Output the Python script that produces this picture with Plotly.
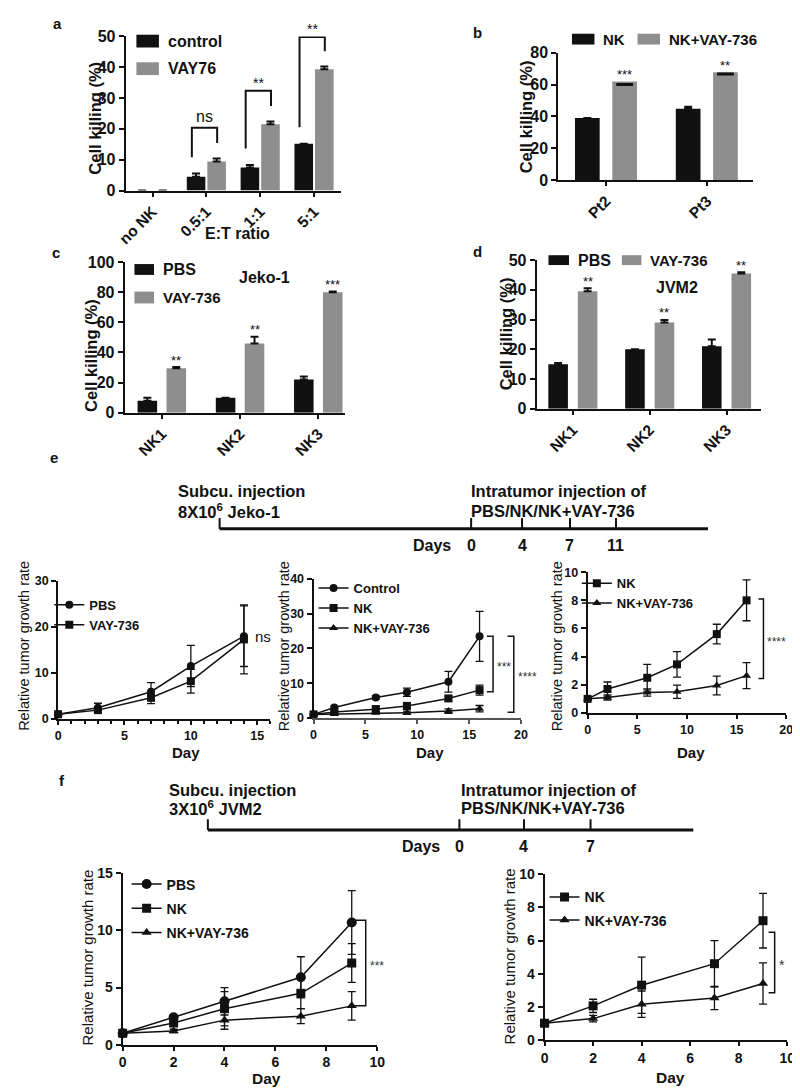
import plotly.graph_objects as go

W, H = 800, 1089
INK = '#111111'
GREY = '#8e8e8e'
SANS = 'Liberation Sans, Arial, sans-serif'

# ---- a: killing vs E:T ratio ----
a_cats = ['no NK', '0.5:1', '1:1', '5:1']
a_control = [0, 4.5, 7.5, 15.2]
a_control_err = [0, 1.0, 0.8, 0]
a_vay = [0, 9.4, 21.5, 39.3]
a_vay_err = [0, 1.0, 0.9, 0.9]
a_sig = ['', 'ns', '**', '**']

# ---- b: patient samples ----
b_cats = ['Pt2', 'Pt3']
b_nk = [39.0, 44.8]
b_nk_err = [0, 1.3]
b_vay = [62.0, 67.8]
b_vay_err = [2.0, 1.2]
b_sig = ['***', '**']

# ---- c: Jeko-1 ----
c_cats = ['NK1', 'NK2', 'NK3']
c_pbs = [8.0, 10.0, 22.0]
c_pbs_err = [2.0, 0, 2.0]
c_vay = [29.5, 46.0, 80.0]
c_vay_err = [0.8, 4.5, 0.4]
c_sig = ['**', '**', '***']

# ---- d: JVM2 ----
d_cats = ['NK1', 'NK2', 'NK3']
d_pbs = [15.0, 20.0, 21.0]
d_pbs_err = [0.4, 0, 2.3]
d_vay = [39.5, 29.0, 45.5]
d_vay_err = [1.0, 0.9, 0.4]
d_sig = ['**', '**', '**']

# ---- e: Jeko-1 xenograft ----
e_steps = ['0', '4', '7', '11']
e1_days = [0, 3, 7, 10, 14]
e1_pbs = [1.0, 2.4, 5.9, 11.5, 18.0]
e1_pbs_err = [0.2, 1.0, 2.0, 4.5, 6.6]
e1_vay = [1.0, 1.9, 4.6, 8.2, 17.3]
e1_vay_err = [0.2, 0.5, 1.3, 2.6, 7.5]

e_days = [0, 2, 6, 9, 13, 16]
e_control = [1.0, 3.0, 5.9, 7.4, 10.4, 23.5]
e_control_err = [0.2, 0.4, 0.5, 1.2, 3.0, 7.2]
e_nk = [1.0, 1.7, 2.5, 3.45, 5.6, 8.0]
e_nk_err = [0.1, 0.5, 0.95, 0.9, 0.7, 1.45]
e_nkvay = [1.0, 1.1, 1.45, 1.5, 1.95, 2.65]
e_nkvay_err = [0.05, 0.18, 0.25, 0.47, 0.67, 0.92]

# ---- f: JVM2 xenograft ----
f_steps = ['0', '4', '7']
f_days = [0, 2, 4, 7, 9]
f1_pbs = [1.0, 2.4, 3.8, 5.9, 10.7]
f1_pbs_err = [0.1, 0.2, 1.2, 1.8, 2.8]
f1_nk = [1.0, 1.9, 3.15, 4.5, 7.15]
f1_nk_err = [0.1, 0.3, 1.5, 1.35, 1.7]
f1_nkvay = [1.0, 1.2, 2.15, 2.5, 3.4]
f1_nkvay_err = [0.05, 0.15, 0.8, 0.65, 1.25]
f2_nk = [1.0, 2.05, 3.3, 4.6, 7.2]
f2_nk_err = [0.1, 0.4, 1.7, 1.4, 1.65]
f2_nkvay = [1.0, 1.28, 2.15, 2.52, 3.4]
f2_nkvay_err = [0.05, 0.2, 0.8, 0.7, 1.25]


def fx(x):
    return x / W


def fy(y):
    return 1 - y / H


def ids(n):
    s = '' if n == 1 else str(n)
    return 'x' + s, 'y' + s, 'xaxis' + s, 'yaxis' + s


fig = go.Figure()
annotations = []
shapes = []
axes = {}


def label(s, x, y, size, bold=True, xanchor='center', angle=0, color=INK):
    annotations.append(dict(text=s, x=fx(x), y=fy(y), xref='paper', yref='paper', showarrow=False,
                            xanchor=xanchor, yanchor='middle', textangle=angle,
                            font=dict(family=SANS, size=size, color=color,
                                      weight='bold' if bold else 'normal')))


def axis_style(size, color=INK):
    return dict(showline=True, linecolor=color, linewidth=2, ticks='outside', tickcolor=color,
                tickwidth=2, ticklen=5, showgrid=False, zeroline=False, fixedrange=True,
                tickfont=dict(family=SANS, size=size, color=INK, weight='bold'))


def bar_panel(n, cats, s1, e1, s2, e2, sig, xdom, ydom, xrange, yrange, dtick,
              width, offsets, down_err=False, bracket=False):
    xa, ya, xk, yk = ids(n)
    pos = list(range(len(cats)))
    fig.add_trace(go.Bar(x=pos, y=s1, width=width, offset=offsets[0],
                         marker=dict(color=INK, line=dict(width=0)),
                         error_y=dict(type='data', symmetric=False, array=e1, arrayminus=[0] * len(e1),
                                      color=INK, thickness=2, width=4),
                         xaxis=xa, yaxis=ya, showlegend=False))
    if down_err:
        fig.add_trace(go.Bar(x=pos, y=s2, width=width, offset=offsets[1],
                             marker=dict(color=GREY, line=dict(width=0)),
                             xaxis=xa, yaxis=ya, showlegend=False))
        fig.add_trace(go.Scatter(x=[p + offsets[1] + width / 2 for p in pos],
                                 y=[v - e for v, e in zip(s2, e2)], mode='markers',
                                 marker=dict(symbol='line-ew', size=12, line=dict(width=3, color=INK)),
                                 xaxis=xa, yaxis=ya, showlegend=False, hoverinfo='skip'))
    else:
        fig.add_trace(go.Bar(x=pos, y=s2, width=width, offset=offsets[1],
                             marker=dict(color=GREY, line=dict(width=0)),
                             error_y=dict(type='data', symmetric=False, array=e2, arrayminus=[0] * len(e2),
                                          color=INK, thickness=2, width=4),
                             xaxis=xa, yaxis=ya, showlegend=False))
    axes[xk] = dict(axis_style(15.5), domain=[fx(xdom[0]), fx(xdom[1])], range=xrange, anchor=ya,
                    tickmode='array', tickvals=pos, ticktext=cats, tickangle=-45, ticklen=4)
    axes[yk] = dict(axis_style(16), domain=[fy(ydom[0]), fy(ydom[1])], range=yrange, anchor=xa, dtick=dtick)
    for i, s in enumerate(sig):
        if not s:
            continue
        if bracket:
            left, right = i - 0.27, i + 0.2
            top = min(s2[i] + e2[i] + 10, yrange[1] - 0.2)
            path = f'M{left},{s1[i] + e1[i] + 5.3} V{top} H{right} V{s2[i] + e2[i] + 5}'
            shapes.append(dict(type='path', path=path, xref=xa, yref=ya,
                               line=dict(color=INK, width=2)))
            annotations.append(dict(text=s, x=(left + right) / 2, y=top, xref=xa, yref=ya,
                                    showarrow=False, yanchor='bottom', yshift=-2 if s != 'ns' else 1,
                                    font=dict(family=SANS, size=16 if s == 'ns' else 14, color=INK)))
        else:
            top = s2[i] + (0 if down_err else e2[i])
            annotations.append(dict(text=s, x=i + offsets[1] + width / 2, y=top, xref=xa, yref=ya,
                                    showarrow=False, yanchor='middle', yshift=7,
                                    font=dict(family=SANS, size=13, color=INK)))


def legend_box(x, y, color, text, size, w=23, h=12):
    shapes.append(dict(type='rect', xref='paper', yref='paper', x0=fx(x), x1=fx(x + w),
                       y0=fy(y + h / 2), y1=fy(y - h / 2), fillcolor=color, line=dict(width=0)))
    label(text, x + w + 7, y, size, xanchor='left')


# ---- bar panels ----
bar_panel(1, a_cats, a_control, a_control_err, a_vay, a_vay_err, a_sig,
          (111, 331), (177.3, 20.7), [-0.5, 3.5], [0, 50], 10, 0.345, (-0.364, 0.018), bracket=True)
bar_panel(2, b_cats, b_nk, b_nk_err, b_vay, b_vay_err, b_sig,
          (553, 752), (166.7, 37.3), [-0.476, 1.456], [0, 80], 20, 0.245, (-0.31, 0.06), down_err=True)
bar_panel(3, c_cats, c_pbs, c_pbs_err, c_vay, c_vay_err, c_sig,
          (110, 335), (403, 250), [-0.475, 2.34], [0, 100], 20, 0.25, (-0.31, 0.06))
bar_panel(4, d_cats, d_pbs, d_pbs_err, d_vay, d_vay_err, d_sig,
          (531, 760), (399, 248), [-0.471, 2.446], [0, 50], 10, 0.255, (-0.32, 0.064))

legend_box(122, 25.5, INK, 'control', 16, h=13)
legend_box(122, 53.5, GREY, 'VAY76', 16, h=13)
legend_box(567, 23.5, INK, 'NK', 15, h=11)
legend_box(634, 23.5, GREY, 'NK+VAY-736', 15, h=11)
legend_box(120, 257.5, INK, 'PBS', 16, w=20, h=11)
legend_box(120, 286, GREY, 'VAY-736', 15, w=20, h=12)
legend_box(543, 248, INK, 'PBS', 16, w=21, h=10)
legend_box(618, 248, GREY, 'VAY-736', 15, w=20, h=10)
label('Jeko-1', 253, 266, 16)
label('JVM2', 674, 276, 16)

label('Cell killing (%)', 80, 104, 16.5, angle=-90)
label('Cell killing (%)', 520, 102, 16.5, angle=-90)
label('Cell killing (%)', 75, 345, 16.5, angle=-90)
label('Cell killing (%)', 500, 323, 16.5, angle=-90)
label('E:T ratio', 225, 221, 16)

for letter, x, y in [('a', 41, 8), ('b', 470, 17), ('c', 40, 240), ('d', 470, 239), ('e', 38, 448), ('f', 46, 777)]:
    label(letter, x, y, 15)


# ---- line panels ----
def line(n, x, y, err, name, symbol, legend, size=8):
    xa, ya, _, _ = ids(n)
    fig.add_trace(go.Scatter(x=x, y=y, mode='lines+markers', name=name, legend=legend, legendgroup=name + legend,
                             line=dict(color=INK, width=1.5),
                             marker=dict(symbol=symbol, size=size, color=INK),
                             error_y=dict(type='data', array=err, color=INK, thickness=1.3, width=4),
                             cliponaxis=False, xaxis=xa, yaxis=ya))


def line_axes(n, xdom, ydom, xrange, yrange, xdtick, ydtick, size, minor=False, xcolor=INK):
    xa, ya, xk, yk = ids(n)
    axes[xk] = dict(axis_style(size, xcolor), domain=[fx(xdom[0]), fx(xdom[1])], range=xrange,
                    anchor=ya, dtick=xdtick, tick0=0, ticklen=4)
    if minor:
        axes[xk]['minor'] = dict(dtick=1, ticks='outside', ticklen=3, tickwidth=1.5, tickcolor=INK)
    axes[yk] = dict(axis_style(size), domain=[fy(ydom[0]), fy(ydom[1])], range=yrange,
                    anchor=xa, dtick=ydtick)


def bracket(n, x0, x1, ytop, ybot, star, size=12):
    xa, ya, _, _ = ids(n)
    shapes.append(dict(type='path', path=f'M{x0},{ytop} H{x1} V{ybot} H{x0}', xref=xa, yref=ya,
                       line=dict(color=INK, width=1.5)))
    annotations.append(dict(text=star, x=x1, y=(ytop + ybot) / 2, xref=xa, yref=ya, showarrow=False,
                            xanchor='left', xshift=2, yshift=-3,
                            font=dict(family=SANS, size=size, color='#333333')))


line(5, e1_days, e1_pbs, e1_pbs_err, 'PBS', 'circle', 'legend')
line(5, e1_days, e1_vay, e1_vay_err, 'VAY-736', 'square', 'legend')
line_axes(5, (42, 259), (714, 574), [0, 16], [0, 30], 5, 10, 12.5, minor=True)
annotations.append(dict(text='ns', x=e1_days[-1], y=e1_pbs[-1], xref='x5', yref='y5', showarrow=False,
                        xanchor='left', xshift=9, font=dict(family=SANS, size=15, color=INK)))

line(6, e_days, e_control, e_control_err, 'Control', 'circle', 'legend2')
line(6, e_days, e_nk, e_nk_err, 'NK', 'square', 'legend2')
line(6, e_days, e_nkvay, e_nkvay_err, 'NK+VAY-736', 'triangle-up', 'legend2')
line_axes(6, (303, 515), (713, 572), [0, 20], [0, 40], 5, 10, 12.5, xcolor='#555555')
bracket(6, 16.7, 17.3, e_control[-1], e_nk[-1] - 0.5, '***')
bracket(6, 18.7, 19.3, e_control[-1], e_nkvay[-1] - 1.0, '****')

line(7, e_days, e_nk, e_nk_err, 'NK', 'square', 'legend3')
line(7, e_days, e_nkvay, e_nkvay_err, 'NK+VAY-736', 'triangle-up', 'legend3')
line_axes(7, (583, 786), (708, 565), [0, 20], [0, 10], 5, 2, 12.5)
bracket(7, 17.2, 17.7, e_nk[-1] + 0.1, e_nkvay[-1] - 0.2, '****')

line(8, f_days, f1_pbs, f1_pbs_err, 'PBS', 'circle', 'legend4', 10)
line(8, f_days, f1_nk, f1_nk_err, 'NK', 'square', 'legend4', 9)
line(8, f_days, f1_nkvay, f1_nkvay_err, 'NK+VAY-736', 'triangle-up', 'legend4', 9)
line_axes(8, (108, 368), (1045, 871), [0, 10], [0, 15], 2, 5, 14)
bracket(8, 9.1, 9.55, f1_pbs[-1] + 0.2, f1_nkvay[-1], '***')

line(9, f_days, f2_nk, f2_nk_err, 'NK', 'square', 'legend5', 9)
line(9, f_days, f2_nkvay, f2_nkvay_err, 'NK+VAY-736', 'triangle-up', 'legend5', 9)
line_axes(9, (539, 787), (1040, 872), [0, 10], [0, 10], 2, 2, 14)
bracket(9, 9.23, 9.48, 6.5, 2.85, '*', 14)

for x in [7, 273, 552]:
    label('Relative tumor growth rate', x, 640, 14.5, bold=False, angle=-90)
for x in [173, 422, 689]:
    label('Day', x, 748, 15)
label('Relative tumor growth rate', 72, 956, 15, bold=False, angle=-90)
label('Relative tumor growth rate', 503, 955, 15, bold=False, angle=-90)
label('Day', 255, 1079, 15.5)
label('Day', 668, 1078, 15.5)


def legend_at(x, y, size, gap=0):
    return dict(x=fx(x), y=fy(y), xanchor='left', yanchor='top', bgcolor='rgba(0,0,0,0)',
                borderwidth=0, tracegroupgap=gap, itemwidth=30,
                font=dict(family=SANS, size=size, color=INK, weight='bold'))


# ---- timelines ----
def timeline(x0, x1, y, step_px, steps, days_x, texts, tx_left, tx_right, ty):
    shapes.append(dict(type='line', xref='paper', yref='paper', x0=fx(x0), x1=fx(x1), y0=fy(y), y1=fy(y),
                       line=dict(color=INK, width=3)))
    for sx in [x0] + step_px:
        shapes.append(dict(type='line', xref='paper', yref='paper', x0=fx(sx), x1=fx(sx),
                           y0=fy(y), y1=fy(y - 11), line=dict(color=INK, width=2)))
    for sx, s in zip(step_px, steps):
        label(s, sx, y + 17, 16)
    label('Days', days_x, y + 17, 16)
    label(texts[0], tx_left, ty[0], 16.5, xanchor='left')
    label(texts[1], tx_left, ty[1], 16.5, xanchor='left')
    label(texts[2], tx_right, ty[0], 16.5, xanchor='left')
    label(texts[3], tx_right, ty[1], 16.5, xanchor='left')


timeline(207, 706, 521, [464, 516, 565, 612], e_steps, 424,
         ['Subcu. injection', '8X10<sup>6</sup> Jeko-1', 'Intratumor injection of', 'PBS/NK/NK+VAY-736'],
         162, 462, (483, 503))
timeline(195, 691, 827, [452, 518, 586], f_steps, 413,
         ['Subcu. injection', '3X10<sup>6</sup> JVM2', 'Intratumor injection of', 'PBS/NK/NK+VAY-736'],
         153, 452, (786, 805))

fig.update_layout(
    width=W, height=H,
    margin=dict(l=0, r=0, t=0, b=0),
    paper_bgcolor='white', plot_bgcolor='white',
    barmode='overlay',
    showlegend=True,
    legend=legend_at(33, 583, 13),
    legend2=legend_at(303, 566, 13),
    legend3=legend_at(572, 561, 13),
    legend4=legend_at(112, 866, 14, gap=3),
    legend5=legend_at(539, 879, 14, gap=2),
    annotations=annotations,
    shapes=shapes,
    **axes,
)

fig.write_html("out.html")
